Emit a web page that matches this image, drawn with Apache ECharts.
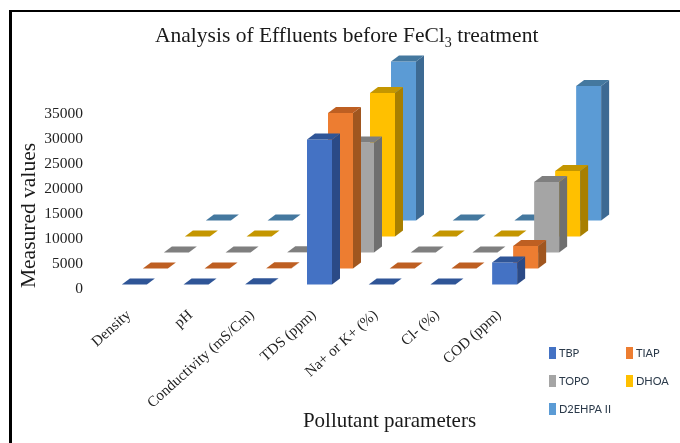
<!DOCTYPE html>
<html><head><meta charset="utf-8">
<style>html,body{margin:0;padding:0;background:#fff}#c{width:680px;height:443px}</style>
<script src="https://cdn.jsdelivr.net/npm/echarts@6/dist/echarts.min.js"></script>
</head><body><div id="c"></div>
<script>
var categories = ['Density','pH','Conductivity (mS/Cm)','TDS (ppm)','Na+ or K+ (%)','Cl- (%)','COD (ppm)'];
var tbp    = [1, 7, 40, 29000, 1, 1, 4400];
var tiap   = [1, 7, 40, 31100, 1, 1, 4500];
var topo   = [1, 7, 40, 22000, 1, 1, 14100];
var dhoa   = [1, 7, 40, 28700, 1, 1, 13100];
var d2ehpa = [1, 7, 40, 31800, 1, 1, 26900];
var names = ['TBP','TIAP','TOPO','DHOA','D2EHPA II'];
var values = [tbp, tiap, topo, dhoa, d2ehpa];
var front = ['#4472C4','#ED7D31','#A5A5A5','#FFC000','#5B9BD5'];
var side  = ['#2B4A86','#A0561F','#6F6F6F','#A87F00','#3D6A93'];
var top_  = ['#2F5597','#BE5F22','#7F7F7F','#C49600','#44789F'];
var serif = '"Liberation Serif","Times New Roman",serif';

function renderer(i){
  return function(params, api){
    var c = api.coord([api.value(0), api.value(1)]);
    var zero = api.coord([api.value(0), 0]);
    var h = zero[1] - c[1];
    var x = zero[0] - 7 + 21*i, yb = zero[1] - 4.5 - 16*i, yt = yb - h;
    var w = 25, dx = 8, dy = 6;
    return {type:'group', children:[
      {type:'polygon', shape:{points:[[x,yb],[x+w,yb],[x+w,yt],[x,yt]]}, style:{fill:front[i]}},
      {type:'polygon', shape:{points:[[x+w,yb],[x+w+dx,yb-dy],[x+w+dx,yt-dy],[x+w,yt]]}, style:{fill:side[i]}},
      {type:'polygon', shape:{points:[[x,yt],[x+w,yt],[x+w+dx,yt-dy],[x+dx,yt-dy]]}, style:{fill:top_[i]}}
    ]};
  };
}
var series = names.map(function(n,i){
  return {name:n, type:'custom', z:10-i, renderItem:renderer(i), itemStyle:{color:front[i]},
    encode:{x:0,y:1}, data:values[i].map(function(v,k){return [k,v];})};
});
var legendPos = [[549,347],[626,347],[549,375],[626,375],[549,403]];
var legends = names.map(function(n,i){
  return {data:[n], left:legendPos[i][0], top:legendPos[i][1], padding:0, icon:'rect', itemWidth:7, itemHeight:12, itemGap:0,
    selectedMode:false, textStyle:{fontFamily:'Lato,"Open Sans",sans-serif', fontSize:11, color:'#2b3a4a', padding:[0,0,0,-2]}};
});
var chart = echarts.init(document.getElementById('c'), null, {renderer:'canvas'});
chart.setOption({
  animation:false, backgroundColor:'#fff',
  grid:{left:98, width:432, top:114, height:175, outerBoundsMode:'none'},
  legend:legends,
  title:{text:'{a|Analysis of Effluents before FeCl}{s|3}{a| treatment}', left:155, top:23, padding:0,
    textStyle:{fontWeight:'normal', rich:{a:{fontFamily:serif,fontSize:21.5,fontWeight:'normal',color:'#1a1a1a'}, s:{fontFamily:serif,fontSize:14,fontWeight:'normal',color:'#1a1a1a',verticalAlign:'bottom',padding:[13,0,0,0]}}}},
  xAxis:{type:'category', data:categories, name:'Pollutant parameters', nameLocation:'middle', nameGap:122, nameMoveOverlap:false,
    nameTextStyle:{fontFamily:serif,fontSize:21,color:'#1a1a1a',padding:[0,0,0,151]}, axisLine:{show:false}, axisTick:{show:false}, splitLine:{show:false},
    axisLabel:{rotate:42, interval:0, margin:24, fontFamily:serif, fontSize:15, color:'#222'}},
  yAxis:{type:'value', min:0, max:35000, interval:5000, name:'Measured values', nameLocation:'middle', nameGap:58, nameRotate:90, nameMoveOverlap:false,
    nameTextStyle:{fontFamily:serif,fontSize:21.5,color:'#1a1a1a',padding:[0,28,0,0]}, axisLine:{show:false}, axisTick:{show:false}, splitLine:{show:false},
    axisLabel:{margin:15, fontFamily:serif, fontSize:15.5, color:'#222', formatter:function(v){return String(v);}}},
  series:series,
  graphic:[
    {type:'line', silent:true, z:100, shape:{x1:10.5,y1:10,x2:10.5,y2:443}, style:{stroke:'#000',lineWidth:3}},
    {type:'line', silent:true, z:100, shape:{x1:9,y1:11,x2:680,y2:11}, style:{stroke:'#000',lineWidth:2}}
  ]
});
</script></body></html>
